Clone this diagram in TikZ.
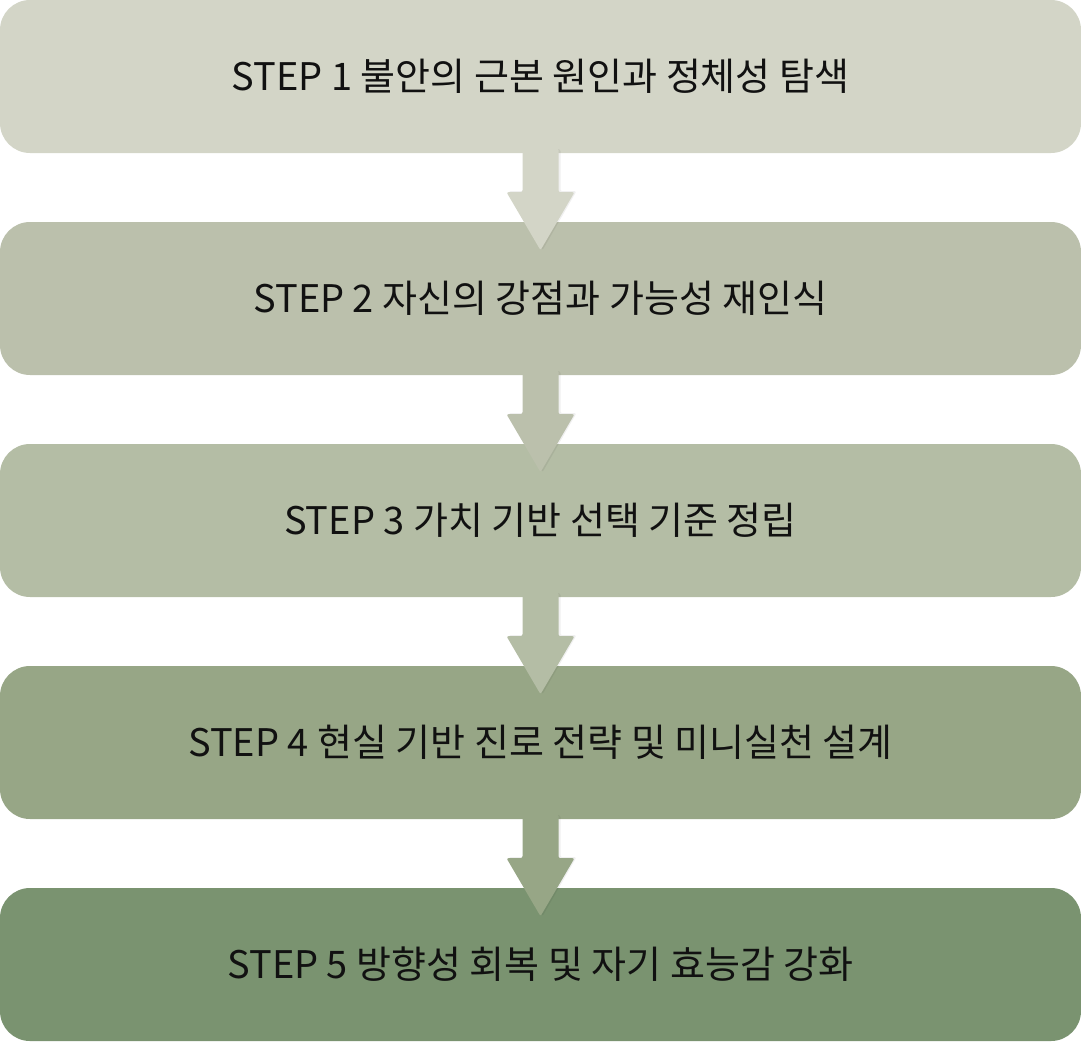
\documentclass[tikz,border=0pt]{standalone}
\usepackage{fontspec}
\setmainfont{Noto Sans CJK KR}
\usetikzlibrary{calc}
\definecolor{cA}{RGB}{211,213,199}
\definecolor{cB}{RGB}{187,192,172}
\definecolor{cC}{RGB}{180,189,165}
\definecolor{cD}{RGB}{151,166,134}
\definecolor{cE}{RGB}{122,147,112}
\definecolor{txt}{RGB}{17,17,17}
\tikzset{
  stepbox/.style={rectangle, rounded corners=30pt, minimum width=1081pt, minimum height=153pt,
    inner sep=0pt, text=txt, font=\fontsize{38}{44}\selectfont},
  flowarrow/.style={rounded corners=2pt}
}
\newcommand{\flowarr}[2]{%
  \fill[black, opacity=0.06, rounded corners=2pt]
    ($(#1.south)+(-16,4)$) -- ($(#1.south)+(-16,-38)$) -- ($(#1.south)+(-32,-38)$) --
    ($(#1.south)+(2,-97)$) -- ($(#1.south)+(36,-38)$) -- ($(#1.south)+(20,-38)$) --
    ($(#1.south)+(20,4)$) -- cycle;
  \fill[#2, flowarrow]
    ($(#1.south)+(-18,5)$) -- ($(#1.south)+(-18,-39)$) -- ($(#1.south)+(-34,-39)$) --
    ($(#1.south)+(0,-97)$) -- ($(#1.south)+(34,-39)$) -- ($(#1.south)+(18,-39)$) --
    ($(#1.south)+(18,5)$) -- cycle;
}
\begin{document}
\begin{tikzpicture}[x=1pt,y=1pt]
\useasboundingbox (0,0) rectangle (1081,-1041);
\node[stepbox, fill=cA] (s1) at (540.5,-76.5) {STEP 1 불안의 근본 원인과 정체성 탐색};
\node[stepbox, fill=cB] (s2) at (540.5,-298.5) {STEP 2 자신의 강점과 가능성 재인식};
\node[stepbox, fill=cC] (s3) at (540.5,-520.5) {STEP 3 가치 기반 선택 기준 정립};
\node[stepbox, fill=cD] (s4) at (540.5,-742.5) {STEP 4 현실 기반 진로 전략 및 미니실천 설계};
\node[stepbox, fill=cE] (s5) at (540.5,-964.5) {STEP 5 방향성 회복 및 자기 효능감 강화};
\flowarr{s1}{cA}
\flowarr{s2}{cB}
\flowarr{s3}{cC}
\flowarr{s4}{cD}
\end{tikzpicture}
\end{document}
